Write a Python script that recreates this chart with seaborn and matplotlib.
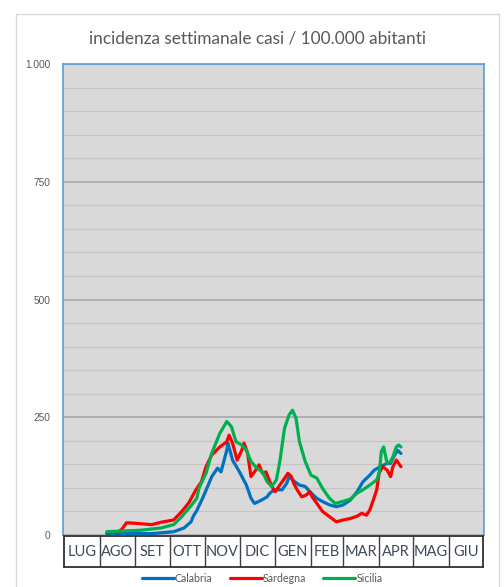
import numpy as np
import pandas as pd
import matplotlib
matplotlib.use("Agg")
import matplotlib.pyplot as plt
from matplotlib.lines import Line2D
from matplotlib.patches import Rectangle
import seaborn as sns

# ---- data (days since 1 July 2020, weekly incidence per 100.000) ----
start_date = "2020-07-01"
regioni = ["Calabria", "Sardegna", "Sicilia"]
colori = ["#0070C0", "#FF0000", "#00B050"]

calabria_giorni = [38, 77, 96, 105, 111, 113, 116, 121, 124, 129, 134, 137, 142, 143, 147,
                   153, 159, 163, 166, 172, 177, 179, 183, 190, 194, 196, 201, 205, 210, 214,
                   220, 225, 231, 237, 243, 249, 255, 260, 266, 270, 275, 281, 284, 286, 290, 293]
calabria_valori = [3, 3, 7, 15, 28, 40, 52, 78, 95, 124, 142, 134, 180, 195, 159,
                   134, 106, 78, 67, 74, 81, 88, 96, 96, 110, 124, 113, 106, 103, 92,
                   78, 71, 64, 60, 64, 74, 92, 113, 127, 138, 145, 152, 152, 163, 180, 173]

sardegna_giorni = [38, 48, 51, 55, 62, 67, 77, 85, 96, 103, 109, 115, 120, 124, 129, 136, 142,
                   144, 147, 151, 155, 157, 160, 163, 166, 170, 173, 176, 181, 184, 188, 192,
                   195, 198, 200, 203, 207, 211, 214, 216, 221, 225, 231, 237, 243, 249, 255,
                   259, 263, 266, 269, 272, 274, 277, 281, 284, 286, 289, 291, 293]
sardegna_valori = [5, 7, 12, 26, 25, 24, 22, 27, 32, 50, 68, 95, 113, 145, 170, 187, 198,
                   212, 195, 159, 180, 195, 174, 124, 134, 149, 131, 134, 103, 92, 106, 120,
                   131, 124, 110, 96, 81, 85, 92, 81, 64, 50, 39, 28, 32, 35, 40,
                   46, 42, 53, 74, 96, 131, 145, 138, 124, 145, 159, 152, 145]

sicilia_giorni = [38, 67, 85, 96, 103, 105, 111, 116, 118, 124, 129, 136, 142, 146, 150, 155,
                  159, 163, 168, 173, 177, 181, 185, 188, 192, 196, 199, 202, 205, 210, 215,
                  220, 225, 231, 236, 242, 249, 255, 260, 266, 272, 274, 275, 276, 278, 281,
                  284, 286, 289, 291, 293]
sicilia_valori = [7, 10, 15, 22, 39, 45, 62, 78, 100, 131, 174, 216, 241, 230, 198, 191,
                  180, 156, 142, 134, 113, 103, 117, 156, 226, 255, 265, 248, 198, 156, 127,
                  121, 99, 78, 67, 71, 76, 89, 96, 106, 117, 131, 152, 177, 187, 152,
                  156, 166, 187, 191, 187]

mesi = ["LUG", "AGO", "SET", "OTT", "NOV", "DIC", "GEN", "FEB", "MAR", "APR", "MAG", "GIU"]
y_ticks = [0, 250, 500, 750, 1000]
y_tick_labels = ["0", "250", "500", "750", "1.000"]
titolo = "incidenza settimanale casi / 100.000 abitanti"

# ---- build long table ----
start = pd.Timestamp(start_date)
frames = []
for nome, g, v in [("Calabria", calabria_giorni, calabria_valori),
                   ("Sardegna", sardegna_giorni, sardegna_valori),
                   ("Sicilia", sicilia_giorni, sicilia_valori)]:
    frames.append(pd.DataFrame({"data": start + pd.to_timedelta(g, unit="D"),
                                "incidenza": v, "regione": nome}))
df = pd.concat(frames, ignore_index=True)

sns.set_style("white")
plt.rcParams["font.family"] = ["Lato", "DejaVu Sans"]

W, H = 504, 587
fig = plt.figure(figsize=(W / 100, H / 100), dpi=100)

# outer chart frame
fig.patches.append(Rectangle((16 / W, -0.02), 483 / W, 1 - 14 / H + 0.02,
                             transform=fig.transFigure, fill=False,
                             ec="#D9D9D9", lw=1.0))

ax = fig.add_axes([63 / W, 1 - 535 / H, 421 / W, 471 / H])
ax.set_facecolor("#D9D9D9")
palette = dict(zip(regioni, colori))
sns.lineplot(data=df, x="data", y="incidenza", hue="regione", palette=palette,
             estimator=None, lw=2.3, legend=False, ax=ax)

month_edges = pd.date_range(start, periods=13, freq="MS")
ax.set_xlim(month_edges[0], month_edges[-1])
ax.set_ylim(0, 1000)
ax.set_yticks(y_ticks)
ax.set_yticklabels(y_tick_labels, family=["Liberation Sans"], fontsize=7.3, color="#595959")
ax.set_yticks(np.arange(0, 1001, 50), minor=True)
ax.set_xticks([])
ax.tick_params(axis="y", which="both", length=0, pad=9)
ax.grid(True, which="minor", axis="y", color="#C4C4C4", lw=0.9)
ax.grid(True, which="major", axis="y", color="#A3A3A3", lw=1.1)
ax.set_axisbelow(True)
ax.set_xlabel("")
ax.set_ylabel("")
for s in ["left", "top", "right"]:
    ax.spines[s].set_visible(True)
    ax.spines[s].set_color("#5B9BD5")
    ax.spines[s].set_linewidth(1.2)
ax.spines["bottom"].set_visible(False)

# month table below the plot
tab = fig.add_axes([64 / W, 1 - 567 / H, 419 / W, 31 / H], sharex=ax)
tab.set_facecolor("white")
tab.set_ylim(0, 1)
for e in month_edges[1:-1]:
    tab.axvline(e, color="#404040", lw=1.0)
for i, m in enumerate(mesi):
    mid = month_edges[i] + (month_edges[i + 1] - month_edges[i]) / 2
    tab.text(mid, 0.5, m, ha="center", va="center", fontsize=10.5, color="#3F4A5A")
tab.tick_params(left=False, bottom=False, labelleft=False, labelbottom=False)
for s in tab.spines.values():
    s.set_visible(True)
    s.set_color("#303030")
    s.set_linewidth(1.3)
ax.set_xlim(month_edges[0], month_edges[-1])

fig.text(0.51, 1 - 38 / H, titolo, ha="center", va="center", fontsize=12.4, color="#595959")

handles = [Line2D([], [], color=c, lw=2.3) for c in colori]
fig.legend(handles, regioni, loc="center", bbox_to_anchor=(0.52, 1 - 578 / H), ncol=3,
           frameon=False, fontsize=7.7, handlelength=3.0, handletextpad=0.1,
           columnspacing=1.6, labelcolor="#595959")

fig.savefig("out.png", dpi=100, facecolor="white")
